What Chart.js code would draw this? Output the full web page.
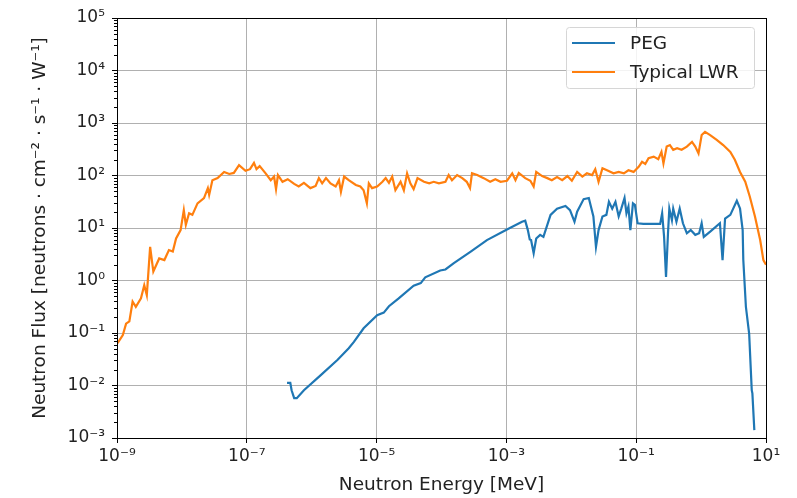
<!DOCTYPE html>
<html>
<head>
<meta charset="utf-8">
<script src="https://cdn.jsdelivr.net/npm/chart.js@4/dist/chart.umd.min.js"></script>
<style>
  html, body { margin: 0; padding: 0; background: #fff; }
</style>
</head>
<body>
<canvas id="flux-chart" width="797" height="498"></canvas>
<script>
// neutron flux spectra

const lwrEnergy = [
  1.02e-9, 1.23e-9, 1.38e-9, 1.55e-9, 1.74e-9, 1.95e-9, 2.34e-9, 2.63e-9, 2.88e-9, 3.24e-9,
  3.63e-9, 4.47e-9, 5.37e-9, 6.31e-9, 7.24e-9, 8.13e-9, 9.55e-9, 1.07e-8, 1.15e-8, 1.29e-8,
  1.45e-8, 1.74e-8, 2.19e-8, 2.51e-8, 2.63e-8, 2.95e-8, 3.55e-8, 4.47e-8, 5.37e-8, 6.31e-8,
  7.59e-8, 9.55e-8, 1.12e-7, 1.29e-7, 1.41e-7, 1.58e-7, 1.95e-7, 2.34e-7, 2.63e-7, 2.82e-7,
  3.02e-7, 3.55e-7, 4.27e-7, 5.37e-7, 6.31e-7, 7.59e-7, 9.55e-7, 1.15e-6, 1.29e-6, 1.45e-6,
  1.66e-6, 1.95e-6, 2.34e-6, 2.63e-6, 2.82e-6, 3.16e-6, 3.72e-6, 4.79e-6, 5.62e-6, 6.31e-6,
  7.08e-6, 7.59e-6, 8.51e-6, 1.02e-5, 1.23e-5, 1.38e-5, 1.55e-5, 1.74e-5, 1.95e-5, 2.34e-5,
  2.63e-5, 2.95e-5, 3.31e-5, 3.72e-5, 4.27e-5, 5.37e-5, 6.46e-5, 7.59e-5, 9.12e-5, 1.15e-4,
  1.29e-4, 1.45e-4, 1.74e-4, 2.09e-4, 2.45e-4, 2.75e-4, 2.95e-4, 3.55e-4, 4.47e-4, 5.62e-4,
  6.76e-4, 8.13e-4, 1.02e-3, 1.23e-3, 1.38e-3, 1.55e-3, 1.95e-3, 2.34e-3, 2.63e-3, 2.88e-3,
  3.55e-3, 4.27e-3, 5.01e-3, 6.03e-3, 7.24e-3, 8.71e-3, 1.02e-2, 1.23e-2, 1.48e-2, 1.74e-2,
  2.09e-2, 2.34e-2, 2.63e-2, 3.02e-2, 3.55e-2, 4.47e-2, 5.37e-2, 6.46e-2, 7.59e-2, 9.12e-2,
  0.110, 0.123, 0.138, 0.155, 0.186, 0.219, 0.245, 0.263, 0.295, 0.331,
  0.372, 0.427, 0.501, 0.603, 0.724, 0.813, 0.912, 1.02, 1.15, 1.38,
  1.74, 2.19, 2.82, 3.31, 3.98, 4.79, 5.62, 6.76, 8.13, 9.12, 10.0
];
const lwrFlux = [
  0.064, 0.091, 0.151, 0.166, 0.398, 0.316, 0.457, 0.813, 0.525, 4.37,
  1.48, 2.63, 2.45, 3.80, 3.55, 6.31, 9.12, 21.9, 11.5, 19.1,
  17.8, 29.5, 37.2, 57.5, 42.7, 81.3, 89.1, 117, 107, 112,
  158, 123, 132, 174, 132, 151, 110, 81.3, 95.5, 55.0,
  102, 75.9, 85.1, 69.2, 61.7, 72.4, 57.5, 63.1, 89.1, 70.8,
  89.1, 70.8, 61.7, 81.3, 49.0, 95.5, 81.3, 66.1, 61.7, 52.5,
  29.5, 70.8, 57.5, 61.7, 75.9, 89.1, 72.4, 95.5, 52.5, 75.9,
  52.5, 110, 70.8, 55.0, 89.1, 75.9, 70.8, 75.9, 70.8, 75.9,
  102, 81.3, 102, 89.1, 75.9, 57.5, 110, 102, 89.1, 75.9,
  85.1, 75.9, 79.4, 110, 81.3, 112, 89.1, 79.4, 61.7, 117,
  97.7, 89.1, 81.3, 93.3, 81.3, 97.7, 79.4, 117, 95.5, 110,
  102, 132, 75.9, 138, 126, 110, 117, 110, 126, 117,
  148, 182, 166, 214, 229, 204, 282, 170, 355, 380,
  309, 331, 309, 355, 437, 355, 263, 589, 676, 589,
  479, 380, 282, 200, 117, 75.9, 39.8, 16.6, 5.89, 2.45, 2.0
];

const pegEnergy = [
  4.17e-7, 4.68e-7, 4.90e-7, 5.37e-7, 5.89e-7, 7.59e-7, 1.38e-6, 2.51e-6, 3.72e-6, 4.47e-6,
  6.31e-6, 1.02e-5, 1.29e-5, 1.55e-5, 2.19e-5, 3.72e-5, 4.79e-5, 5.62e-5, 9.55e-5, 1.15e-4,
  1.55e-4, 2.82e-4, 5.01e-4, 1.02e-3, 1.74e-3, 1.95e-3, 2.14e-3, 2.29e-3, 2.40e-3, 2.63e-3,
  2.88e-3, 3.31e-3, 3.72e-3, 4.79e-3, 6.03e-3, 8.13e-3, 9.55e-3, 1.12e-2, 1.23e-2, 1.55e-2,
  1.86e-2, 2.19e-2, 2.40e-2, 2.63e-2, 3.02e-2, 3.47e-2, 3.80e-2, 4.27e-2, 4.79e-2, 5.37e-2,
  5.89e-2, 6.61e-2, 7.08e-2, 7.59e-2, 8.13e-2, 8.91e-2, 9.55e-2, 0.105, 0.129, 0.234,
  0.251, 0.269, 0.288, 0.309, 0.324, 0.355, 0.372, 0.417, 0.468, 0.525,
  0.603, 0.692, 0.813, 0.933, 1.02, 1.10, 1.38, 1.95, 2.14, 2.34,
  2.82, 3.55, 3.98, 4.37, 4.47, 4.90, 5.50, 6.03, 6.17, 6.61
];
const pegFlux = [
  0.0112, 0.0112, 0.00813, 0.00575, 0.00575, 0.00813, 0.0158, 0.0309, 0.0513, 0.0676,
  0.123, 0.219, 0.245, 0.324, 0.457, 0.794, 0.891, 1.15, 1.55, 1.62,
  2.14, 3.55, 5.89, 9.33, 13.2, 13.8, 9.12, 6.03, 5.89, 3.31,
  6.31, 7.41, 6.76, 17.8, 23.4, 26.3, 21.9, 13.2, 20.4, 35.5,
  37.2, 16.6, 4.37, 9.12, 16.6, 17.8, 31.6, 23.4, 31.6, 16.6,
  23.4, 37.2, 19.1, 25.7, 9.12, 29.5, 27.5, 12.3, 12.0, 12.0,
  19.1, 6.76, 1.17, 7.94, 23.4, 14.1, 23.4, 13.2, 23.4, 12.3,
  7.94, 9.12, 7.41, 7.94, 12.3, 6.76, 8.51, 12.3, 2.45, 15.1,
  17.8, 33.1, 23.4, 9.12, 2.45, 0.316, 0.0977, 0.00813, 0.00708, 0.00141
];

const xTickValues = [1e-9, 1e-7, 1e-5, 1e-3, 1e-1, 1e1];
const xTickLabels = ['10⁻⁹', '10⁻⁷', '10⁻⁵', '10⁻³', '10⁻¹', '10¹'];
const yTickValues = [1e-3, 1e-2, 1e-1, 1e0, 1e1, 1e2, 1e3, 1e4, 1e5];
const yTickLabels = ['10⁻³', '10⁻²', '10⁻¹', '10⁰', '10¹', '10²', '10³', '10⁴', '10⁵'];
const yMinorSteps = [2, 3, 4, 5, 6, 7, 8, 9];

const seriesNames = ['PEG', 'Typical LWR'];
const seriesColors = ['#1f77b4', '#ff7f0e'];

const FONT = "'DejaVu Sans', sans-serif";

function toPoints(xs, ys) {
  return xs.map((x, i) => ({ x: x, y: ys[i] }));
}

// frame, minor ticks on the y axis, and the boxed legend
const extras = {
  id: 'extras',
  afterDraw(chart) {
    const ctx = chart.ctx;
    const a = chart.chartArea;
    const yScale = chart.scales.y;
    ctx.save();
    ctx.strokeStyle = '#000';
    ctx.lineWidth = 1;
    ctx.beginPath();
    yTickValues.slice(0, -1).forEach(v => {
      yMinorSteps.forEach(k => {
        const py = Math.round(yScale.getPixelForValue(v * k)) + 0.5;
        ctx.moveTo(a.left - 3, py);
        ctx.lineTo(a.left, py);
      });
    });
    ctx.stroke();
    ctx.strokeRect(Math.round(a.left) + 0.5, Math.round(a.top) + 0.5,
      Math.round(a.right - a.left), Math.round(a.bottom - a.top));

    // legend
    const lx = 566, ly = 27, lw = 188, lh = 61;
    ctx.fillStyle = 'rgba(255,255,255,0.85)';
    ctx.strokeStyle = '#d6d6d6';
    ctx.beginPath();
    ctx.roundRect(lx + 0.5, ly + 0.5, lw, lh, 3);
    ctx.fill();
    ctx.stroke();
    ctx.font = '18.5px ' + FONT;
    ctx.textBaseline = 'middle';
    seriesNames.forEach((name, i) => {
      const rowY = ly + 16 + i * 29;
      ctx.strokeStyle = seriesColors[i];
      ctx.lineWidth = 2.2;
      ctx.beginPath();
      ctx.moveTo(lx + 6, rowY);
      ctx.lineTo(lx + 49, rowY);
      ctx.stroke();
      ctx.fillStyle = '#222';
      ctx.fillText(name, lx + 64, rowY + 1);
    });
    ctx.restore();
  }
};

const fluxData = {
  datasets: [
    {
      label: seriesNames[0],
      data: toPoints(pegEnergy, pegFlux),
      borderColor: seriesColors[0],
      borderWidth: 2.2,
      pointRadius: 0,
      fill: false
    },
    {
      label: seriesNames[1],
      data: toPoints(lwrEnergy, lwrFlux),
      borderColor: seriesColors[1],
      borderWidth: 2.2,
      pointRadius: 0,
      fill: false
    }
  ]
};

const fluxConfig = {
  type: 'line',
  data: fluxData,
  plugins: [extras],
  options: {
    responsive: false,
    animation: false,
    devicePixelRatio: 1,
    layout: { padding: { left: 0, right: 31, top: 18, bottom: 0 } },
    plugins: {
      legend: { display: false },
      tooltip: { enabled: false }
    },
    scales: {
      x: {
        type: 'logarithmic',
        min: 1e-9,
        max: 10,
        afterBuildTicks: s => { s.ticks = xTickValues.map(v => ({ value: v })); },
        afterFit: s => { s.height = 60; },
        ticks: {
          autoSkip: false,
          maxRotation: 0,
          padding: 3,
          color: '#222',
          font: { family: FONT, size: 17 },
          callback: (v, i) => xTickLabels[i]
        },
        grid: { color: '#b0b0b0', tickColor: '#000', tickLength: 5 },
        border: { color: '#000' },
        title: {
          display: true,
          text: 'Neutron Energy [MeV]',
          color: '#222',
          font: { family: FONT, size: 18.5 },
          padding: { top: 0, bottom: 2 }
        }
      },
      y: {
        type: 'logarithmic',
        min: 1e-3,
        max: 1e5,
        afterBuildTicks: s => { s.ticks = yTickValues.map(v => ({ value: v })); },
        afterFit: s => { s.width = 117; },
        ticks: {
          autoSkip: false,
          padding: 7,
          color: '#222',
          font: { family: FONT, size: 17 },
          callback: (v, i) => yTickLabels[i]
        },
        grid: { color: '#b0b0b0', tickColor: '#000', tickLength: 5 },
        border: { color: '#000' },
        title: {
          display: true,
          text: 'Neutron Flux [neutrons · cm⁻² · s⁻¹ · W⁻¹]',
          color: '#222',
          font: { family: FONT, size: 18.5 },
          padding: { top: 29, bottom: 0 }
        }
      }
    }
  }
};

const fluxChart = new Chart(
  document.getElementById('flux-chart').getContext('2d'),
  fluxConfig
);
</script>
</body>
</html>
